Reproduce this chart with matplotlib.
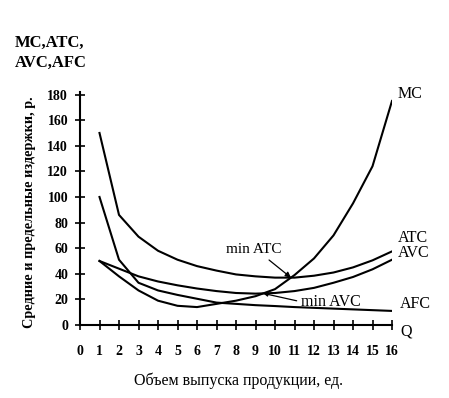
import numpy as np
import matplotlib
matplotlib.use("Agg")
from matplotlib import pyplot as plt

# values, Q = 1..16
Q = [1, 2, 3, 4, 5, 6, 7, 8, 9, 10, 11, 12, 13, 14, 15, 16]
MC = [50, 38, 27, 19, 15, 14, 16.5, 19, 22.5, 28, 39, 52, 70, 95, 124, 175]
ATC = [150, 86, 69, 58, 51, 46, 42.5, 39.5, 38, 37, 37, 38.5, 41, 45, 50.5, 57.5]
AVC = [50, 44, 38, 34, 31, 28.5, 26.5, 25, 24.5, 25, 26.5, 29, 33, 37.5, 43.5, 51]
AFC = [100, 51, 33, 27, 23.5, 20.5, 17.5, 16.5, 15.5, 14.8, 14, 13.4, 12.8, 12.2, 11.6, 11]
xticks = list(range(0, 17))
yticks = list(range(0, 181, 20))

plt.rcParams['font.family'] = ['Liberation Serif', 'DejaVu Serif']


def crossing(a, b):
    # first point where curve a goes above curve b (linear between points)
    a = np.array(a, float)
    b = np.array(b, float)
    q = np.array(Q, float)
    d = a - b
    for i in range(4, len(d) - 1):
        if d[i] <= 0 < d[i + 1]:
            t = d[i] / (d[i] - d[i + 1])
            return q[i] + t * (q[i + 1] - q[i]), a[i] + t * (a[i + 1] - a[i])
    return q[-1], a[-1]


fig = plt.figure(figsize=(4.49, 3.98), dpi=100)
ax = fig.add_axes([80 / 449, 1 - 325 / 398, 312 / 449, 233 / 398])

for y in [MC, ATC, AVC, AFC]:
    ax.plot(Q, y, color='black', lw=1.5)

ax.set_xlim(0, 16)
ax.set_ylim(0, 182)
ax.set_xticks(xticks)
ax.set_yticks(yticks)
ax.spines['top'].set_visible(False)
ax.spines['right'].set_visible(False)
ax.spines['left'].set_linewidth(1.5)
ax.spines['bottom'].set_linewidth(1.5)
ax.tick_params(axis='both', direction='inout', length=7, width=1.2)
ax.tick_params(axis='x', pad=11, labelsize=10)
ax.tick_params(axis='y', pad=5, labelsize=10)
for lab in ax.get_xticklabels() + ax.get_yticklabels():
    lab.set_fontweight('bold')

# curve labels at the right ends
lab_kw = dict(textcoords='offset points', fontsize=11.5, va='center', ha='left')
ax.annotate('MC', xy=(Q[-1], MC[-1]), xytext=(4, 5), **lab_kw)
ax.annotate('ATC', xy=(Q[-1], ATC[-1]), xytext=(4, 9.5), **lab_kw)
ax.annotate('AVC', xy=(Q[-1], AVC[-1]), xytext=(4, 4.5), **lab_kw)
ax.annotate('AFC', xy=(Q[-1], AFC[-1]), xytext=(6, 5), **lab_kw)
ax.annotate('Q', xy=(16, 0), xytext=(6, -5), **lab_kw)

qa, va = crossing(MC, ATC)
ax.annotate('min ATC', xy=(qa, va), xytext=(-47, 20), textcoords='offset points',
            fontsize=11, ha='left', va='center',
            arrowprops=dict(arrowstyle='-|>', color='black', lw=0.9,
                            mutation_scale=8, relpos=(0.7, 0), shrinkA=1, shrinkB=0))
qv, vv = crossing(MC, AVC)
ax.annotate('min AVC', xy=(qv, vv), xytext=(27, -6), textcoords='offset points',
            fontsize=11.5, ha='left', va='center',
            arrowprops=dict(arrowstyle='-|>', color='black', lw=0.9,
                            mutation_scale=6, relpos=(0, 0.5), shrinkA=1, shrinkB=0))

fig.text(15 / 449, 1 - 53 / 398, 'MC,ATC,\nAVC,AFC', fontsize=12, fontweight='bold',
         ha='left', va='center', linespacing=1.35)
fig.text(30 / 449, 1 - 212 / 398, 'Средние и предельные издержки, р.', rotation=90,
         fontsize=10.3, fontweight='bold', ha='center', va='center')
fig.text(238 / 449, 1 - 381 / 398, 'Объем выпуска продукции, ед.', fontsize=11.5,
         ha='center', va='center')

fig.savefig('out.png', dpi=100)
